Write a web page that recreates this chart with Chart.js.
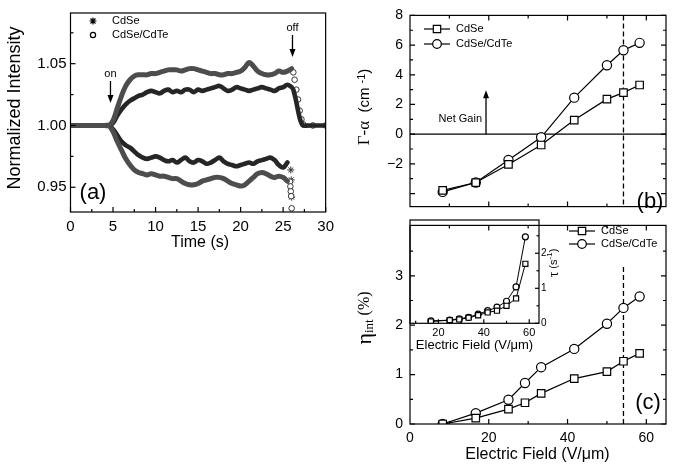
<!DOCTYPE html>
<html>
<head>
<meta charset="utf-8">
<script src="https://cdn.jsdelivr.net/npm/chart.js@4.4.0/dist/chart.umd.min.js"></script>
<style>
  body { margin: 0; background: #fff; }
  #wrap { position: relative; width: 674px; height: 471px; overflow: hidden; background: #fff; }
  canvas { position: absolute; }
</style>
</head>
<body>
<div id="wrap">
  <canvas id="chartA" width="340" height="260" style="left:0;top:0"></canvas>
  <canvas id="chartB" width="334" height="222" style="left:340px;top:0"></canvas>
  <canvas id="chartC" width="334" height="261" style="left:340px;top:210px"></canvas>
  <canvas id="chartD" width="334" height="150" style="left:340px;top:210px"></canvas>
</div>
<script>
// ---- panel (a): intensity vs time ----
const timeMain = [0, 0.5, 1, 1.5, 2, 2.5, 3, 3.5, 4, 4.5,
  5, 5.5, 6, 6.5, 7, 7.5, 8, 8.5, 9, 9.5,
  10, 10.5, 11, 11.5, 12, 12.5, 13, 13.5, 14, 14.5,
  15, 15.5, 16, 16.5, 17, 17.5, 18, 18.5, 19, 19.5,
  20, 20.5, 21, 21.5, 22, 22.5, 23, 23.5, 24, 24.5,
  25, 25.5, 26];
const cdteUp = [1, 1, 1, 1, 1, 1, 1, 1, 1, 1,
  1.004, 1.014, 1.024, 1.032, 1.037, 1.040, 1.041, 1.041, 1.041, 1.042,
  1.042, 1.043, 1.044, 1.045, 1.045, 1.045, 1.044, 1.045, 1.046, 1.046,
  1.045, 1.044, 1.043, 1.042, 1.042, 1.041, 1.041, 1.042, 1.042, 1.043,
  1.044, 1.047, 1.051, 1.048, 1.044, 1.042, 1.041, 1.041, 1.042, 1.044,
  1.043, 1.044, 1.046];
const cdseUp = [1, 1, 1, 1, 1, 1, 1, 1, 1, 1,
  1.002, 1.008, 1.013, 1.017, 1.020, 1.022, 1.024, 1.025, 1.027, 1.028,
  1.027, 1.026, 1.028, 1.029, 1.027, 1.028, 1.027, 1.029, 1.029, 1.027,
  1.029, 1.028, 1.029, 1.030, 1.031, 1.032, 1.030, 1.028, 1.029, 1.031,
  1.030, 1.029, 1.028, 1.029, 1.030, 1.031, 1.030, 1.029, 1.028, 1.030,
  1.031, 1.033, 1.031];
const cdseDown = [1, 1, 1, 1, 1, 1, 1, 1, 1, 1,
  0.997, 0.992, 0.987, 0.984, 0.982, 0.979, 0.976, 0.974, 0.973, 0.974,
  0.975, 0.974, 0.972, 0.971, 0.972, 0.970, 0.972, 0.974, 0.971, 0.970,
  0.972, 0.971, 0.969, 0.970, 0.972, 0.974, 0.971, 0.969, 0.968, 0.967,
  0.968, 0.969, 0.970, 0.969, 0.971, 0.972, 0.973, 0.974, 0.972, 0.968,
  0.966, 0.970];
const cdteDown = [1, 1, 1, 1, 1, 1, 1, 1, 1, 1,
  0.995, 0.987, 0.980, 0.973, 0.968, 0.964, 0.962, 0.961, 0.960, 0.961,
  0.960, 0.959, 0.959, 0.958, 0.957, 0.957, 0.955, 0.953, 0.952, 0.952,
  0.953, 0.955, 0.956, 0.957, 0.958, 0.958, 0.957, 0.955, 0.953, 0.952,
  0.951, 0.952, 0.955, 0.958, 0.961, 0.962, 0.961, 0.959, 0.958, 0.959,
  0.958, 0.955];
// field switched off: upper curves relax back to 1
const timeOff = [26.2, 26.35, 26.55, 26.75, 26.95, 27.15, 27.35, 28.5, 30];
const cdteOff = [1.043, 1.037, 1.029, 1.021, 1.012, 1.005, 1.001, 1.000, 1.000];
const cdseOff = [1.029, 1.025, 1.019, 1.012, 1.006, 1.002, 1.000, 1.000, 1.000];
// last points of the lower curves
const timeTailTe = [25.8, 25.85, 25.9, 25.95, 26.0];
const cdteTail = [0.9546, 0.9507, 0.9467, 0.9428, 0.933];
const timeTailSe = [25.9, 25.95, 26.0];
const cdseTail = [0.964, 0.956, 0.942];

const timeTicks = [0, 5, 10, 15, 20, 25, 30];
const timeMinor = [2.5, 7.5, 12.5, 17.5, 22.5, 27.5];
const intensityTicks = [0.95, 1.00, 1.05];
const intensityMinor = [0.975, 1.025, 1.075];

// ---- panel (b): gain ----
const fieldB = [8.3, 16.7, 25, 33.3, 41.7, 50, 54.2, 58.3];
const gainCdSe = [-3.79, -3.26, -2.04, -0.73, 0.95, 2.36, 2.80, 3.31];
const gainCdTe = [-3.89, -3.26, -1.74, -0.21, 2.46, 4.64, 5.65, 6.15];
const gainTicks = [-2, 0, 2, 4, 6, 8];
const gainMarks = [-4, -2, 0, 2, 4, 6, 8];
const gainMinor = [-3, -1, 1, 3, 5, 7];

// ---- panel (c): internal efficiency ----
const fieldC = [8.3, 16.7, 25, 29.2, 33.3, 41.7, 50, 54.2, 58.3];
const etaCdSe = [0.0, 0.12, 0.30, 0.43, 0.62, 0.92, 1.06, 1.27, 1.43];
const etaCdTe = [0.0, 0.22, 0.49, 0.83, 1.15, 1.52, 2.03, 2.35, 2.58];
const etaTicks = [0, 1, 2, 3];
const etaMinor = [0.5, 1.5, 2.5, 3.5];
const fieldTicks = [0, 20, 40, 60];
const fieldMarks = [20, 40, 60];
const fieldMinor = [10, 30, 50];

// ---- inset: rate vs field ----
const fieldInset = [16.7, 25, 29.2, 33.3, 37.5, 41.7, 45.8, 50, 54.2, 58.3];
const tauCdSe = [0.05, 0.09, 0.11, 0.16, 0.23, 0.31, 0.36, 0.50, 0.71, 1.70];
const tauCdTe = [0.07, 0.09, 0.13, 0.17, 0.26, 0.36, 0.46, 0.63, 1.04, 2.47];
const insetXTicks = [20, 40, 60];
const insetXMinor = [10, 30, 50];
const insetYTicks = [0, 1, 2];
const insetYMinor = [0.5, 1.5, 2.5];

const markerField = 54.2;   // dashed line in (b) and (c)
const netGainField = 19.3;  // arrow position in (b)

const SANS = '"Liberation Sans", Arial, Helvetica, sans-serif';
const SERIF = '"Liberation Serif", "Times New Roman", serif';
Chart.defaults.font.family = SANS;
Chart.defaults.color = '#000';

const pts = (xs, ys) => ys.map((y, i) => ({ x: xs[i], y: y }));

// helpers for text
function label(ctx, str, x, y, font, align) {
  ctx.save();
  ctx.font = font;
  ctx.fillStyle = '#000';
  ctx.textAlign = align || 'center';
  ctx.textBaseline = 'middle';
  ctx.fillText(str, x, y);
  ctx.restore();
}
function runs(ctx, x, y, angle, parts) {
  ctx.save();
  ctx.translate(x, y);
  ctx.rotate(angle);
  let total = 0;
  parts.forEach(p => { ctx.font = p.font; p.w = ctx.measureText(p.t).width; total += p.w; });
  let cx = -total / 2;
  ctx.fillStyle = '#000';
  ctx.textAlign = 'left';
  ctx.textBaseline = 'middle';
  parts.forEach(p => { ctx.font = p.font; ctx.fillText(p.t, cx, p.dy || 0); cx += p.w; });
  ctx.restore();
}
function arrow(ctx, x, y0, y1) {
  // from y0 to y1 with head at y1
  const dir = y1 > y0 ? 1 : -1;
  ctx.save();
  ctx.strokeStyle = '#000';
  ctx.fillStyle = '#000';
  ctx.lineWidth = 1.3;
  ctx.beginPath();
  ctx.moveTo(x, y0);
  ctx.lineTo(x, y1 - dir * 6);
  ctx.stroke();
  ctx.beginPath();
  ctx.moveTo(x, y1);
  ctx.lineTo(x - 3, y1 - dir * 8);
  ctx.lineTo(x + 3, y1 - dir * 8);
  ctx.closePath();
  ctx.fill();
  ctx.restore();
}
function marker(ctx, style, x, y, r) {
  ctx.save();
  ctx.strokeStyle = '#000';
  ctx.fillStyle = '#fff';
  ctx.lineWidth = 1.2;
  ctx.beginPath();
  if (style === 'rect') {
    ctx.rect(x - r, y - r, 2 * r, 2 * r);
    ctx.fill();
  } else if (style === 'circle') {
    ctx.arc(x, y, r, 0, Math.PI * 2);
    ctx.fill();
  } else {
    for (let k = 0; k < 4; k++) {
      const a = k * Math.PI / 4;
      ctx.moveTo(x - r * Math.cos(a), y - r * Math.sin(a));
      ctx.lineTo(x + r * Math.cos(a), y + r * Math.sin(a));
    }
  }
  ctx.stroke();
  ctx.restore();
}
function legendRow(ctx, style, x, y, text, r) {
  ctx.save();
  ctx.strokeStyle = '#000';
  ctx.lineWidth = 1.2;
  ctx.beginPath();
  ctx.moveTo(x, y);
  ctx.lineTo(x + 26, y);
  ctx.stroke();
  ctx.restore();
  marker(ctx, style, x + 13, y, r);
  label(ctx, text, x + 32, y, '11px ' + SANS, 'left');
}

// box + inward ticks, plus extra drawing per panel
function framePlugin(cfg) {
  return {
    id: 'frame' + cfg.name,
    beforeDatasetsDraw(chart) {
      if (cfg.under) cfg.under(chart, chart.ctx);
    },
    afterDatasetsDraw(chart) {
      const ctx = chart.ctx;
      const a = chart.chartArea;
      const xs = chart.scales.x, ys = chart.scales.y;
      ctx.save();
      ctx.strokeStyle = '#000';
      ctx.lineWidth = 1.2;
      ctx.strokeRect(a.left, a.top, a.right - a.left, a.bottom - a.top);
      const xTick = (vals, len) => vals.forEach(v => {
        const px = xs.getPixelForValue(v);
        ctx.beginPath();
        if (cfg.sides.includes('bottom')) { ctx.moveTo(px, a.bottom); ctx.lineTo(px, a.bottom - len); }
        if (cfg.sides.includes('top')) { ctx.moveTo(px, a.top); ctx.lineTo(px, a.top + len); }
        ctx.stroke();
      });
      const yTick = (vals, len) => vals.forEach(v => {
        const py = ys.getPixelForValue(v);
        ctx.beginPath();
        if (cfg.sides.includes('left')) { ctx.moveTo(a.left, py); ctx.lineTo(a.left + len, py); }
        if (cfg.sides.includes('right')) { ctx.moveTo(a.right, py); ctx.lineTo(a.right - len, py); }
        ctx.stroke();
      });
      xTick(cfg.xMajor, cfg.len || 5);
      xTick(cfg.xMinor, cfg.minorLen || 3);
      yTick(cfg.yMajor, cfg.len || 5);
      yTick(cfg.yMinor, cfg.minorLen || 3);
      ctx.restore();
      if (cfg.over) cfg.over(chart, ctx);
    }
  };
}

function axis(min, max, ticks, fmt, size, padding, fit) {
  return {
    type: 'linear', min: min, max: max,
    afterBuildTicks: s => { s.ticks = ticks.map(v => ({ value: v })); },
    afterFit: fit,
    grid: { display: false, drawTicks: false },
    border: { display: false },
    ticks: {
      display: ticks.length > 0,
      autoSkip: false, maxRotation: 0, padding: padding,
      color: '#000', font: { size: size, family: SANS },
      callback: fmt
    }
  };
}
const baseOpts = {
  responsive: false,
  animation: false,
  events: [],
  plugins: { legend: { display: false }, tooltip: { enabled: false } }
};

// ---------------- panel (a) ----------------
const bandTe = { borderColor: '#4d4d4d', borderWidth: 5, pointRadius: 0, tension: 0.4, borderCapStyle: 'round', borderJoinStyle: 'round' };
const bandTeCore = { borderColor: '#a8a8a8', borderWidth: 1.6, pointRadius: 0, tension: 0.4 };
const bandSe = { borderColor: '#262626', borderWidth: 4.6, pointRadius: 0, tension: 0.4, borderCapStyle: 'round', borderJoinStyle: 'round' };
const dotsTe = { showLine: false, pointStyle: 'circle', pointRadius: 2.8, pointBorderWidth: 1, pointBorderColor: '#333', pointBackgroundColor: '#fff' };
const dotsSe = { showLine: false, pointStyle: 'star', pointRadius: 3.5, pointBorderWidth: 1, pointBorderColor: '#333' };

new Chart(document.getElementById('chartA'), {
  type: 'line',
  data: {
    datasets: [
      Object.assign({ data: pts(timeOff, cdseOff) }, bandSe, { tension: 0.2 }),
      Object.assign({ data: pts(timeMain, cdteUp) }, bandTe),
      Object.assign({ data: pts(timeMain, cdteUp) }, bandTeCore),
      Object.assign({ data: pts(timeMain, cdseUp) }, bandSe),
      Object.assign({ data: pts(timeMain, cdteDown) }, bandTe),
      Object.assign({ data: pts(timeMain, cdteDown) }, bandTeCore),
      Object.assign({ data: pts(timeMain, cdseDown) }, bandSe),
      Object.assign({ data: pts(timeOff, cdteOff) }, dotsTe),
      Object.assign({ data: pts(timeTailTe, cdteTail) }, dotsTe),
      Object.assign({ data: pts(timeTailSe, cdseTail) }, dotsSe)
    ]
  },
  options: Object.assign({}, baseOpts, {
    layout: { padding: { left: 0, top: 8, right: 11.5, bottom: 0 } },
    scales: {
      x: axis(0, 30, timeTicks, v => v, 15, 6, s => { s.height = 48; }),
      y: axis(0.930, 1.091, intensityTicks, v => v.toFixed(2), 15, 4, s => { s.width = 70.5; })
    }
  }),
  plugins: [framePlugin({
    name: 'A', sides: ['bottom', 'left'],
    xMajor: timeTicks, xMinor: timeMinor, yMajor: intensityTicks, yMinor: intensityMinor,
    over(chart, ctx) {
      const xs = chart.scales.x;
      runs(ctx, 15, 108, -Math.PI / 2, [{ t: 'Normalized Intensity', font: '18px ' + SANS }]);
      label(ctx, 'Time (s)', 200, 243, '16px ' + SANS);
      marker(ctx, 'star', 93, 21, 3.5);
      label(ctx, 'CdSe', 112, 21, '11px ' + SANS, 'left');
      marker(ctx, 'circle', 93, 35, 2.6);
      label(ctx, 'CdSe/CdTe', 112, 35, '11px ' + SANS, 'left');
      const xOn = xs.getPixelForValue(4.7), xOff = xs.getPixelForValue(26.1);
      label(ctx, 'on', xOn, 74, '11px ' + SANS);
      arrow(ctx, xOn, 81, 103);
      label(ctx, 'off', xOff, 28, '11px ' + SANS);
      arrow(ctx, xOff, 35, 57);
      label(ctx, '(a)', 93, 193, '22px ' + SANS);
    }
  })]
});

// ---------------- panel (b) ----------------
const lineSq = { borderColor: '#000', borderWidth: 1.2, pointStyle: 'rect', pointRadius: 5.3, pointBorderWidth: 1.2, pointBorderColor: '#000', pointBackgroundColor: '#fff', tension: 0 };
const lineCi = { borderColor: '#000', borderWidth: 1.2, pointStyle: 'circle', pointRadius: 4.6, pointBorderWidth: 1.2, pointBorderColor: '#000', pointBackgroundColor: '#fff', tension: 0 };

function dashed(ctx, x, y0, y1) {
  ctx.save();
  ctx.strokeStyle = '#000';
  ctx.lineWidth = 1.3;
  ctx.setLineDash([5, 3]);
  ctx.beginPath();
  ctx.moveTo(x, y0);
  ctx.lineTo(x, y1);
  ctx.stroke();
  ctx.restore();
}

new Chart(document.getElementById('chartB'), {
  type: 'line',
  data: {
    datasets: [
      Object.assign({ data: pts(fieldB, gainCdSe) }, lineSq),
      Object.assign({ data: pts(fieldB, gainCdTe) }, lineCi)
    ]
  },
  options: Object.assign({}, baseOpts, {
    layout: { padding: { left: 0, top: 15, right: 8, bottom: 3 } },
    scales: {
      x: axis(0, 65, [], v => '', 14, 0, s => { s.height = 0; }),
      y: axis(-4.88, 8, gainTicks, v => v < 0 ? '\u2212' + Math.abs(v) : String(v), 14, 7, s => { s.width = 70; })
    }
  }),
  plugins: [framePlugin({
    name: 'B', sides: ['bottom', 'top', 'left', 'right'],
    xMajor: fieldMarks, xMinor: fieldMinor, yMajor: gainMarks, yMinor: gainMinor,
    under(chart, ctx) {
      const a = chart.chartArea, xs = chart.scales.x, ys = chart.scales.y;
      const y0 = ys.getPixelForValue(0);
      ctx.save();
      ctx.strokeStyle = '#000';
      ctx.lineWidth = 1.2;
      ctx.beginPath();
      ctx.moveTo(a.left, y0);
      ctx.lineTo(a.right, y0);
      ctx.stroke();
      ctx.restore();
      dashed(ctx, xs.getPixelForValue(markerField), a.top, a.bottom);
      arrow(ctx, xs.getPixelForValue(netGainField), y0, ys.getPixelForValue(2.95));
    },
    over(chart, ctx) {
      runs(ctx, 25, 107, -Math.PI / 2, [
        { t: '\u0393-\u03b1', font: '17px ' + SERIF },
        { t: '  (cm ', font: '15px ' + SANS },
        { t: '-1', font: '11px ' + SANS, dy: -3 },
        { t: ')', font: '15px ' + SANS }
      ]);
      label(ctx, 'Net Gain', 142, 119, '11px ' + SANS, 'right');
      legendRow(ctx, 'rect', 84, 29, 'CdSe', 3.7);
      legendRow(ctx, 'circle', 84, 44, 'CdSe/CdTe', 4.3);
      label(ctx, '(b)', 310, 202, '22px ' + SANS);
    }
  })]
});

// ---------------- panel (c) ----------------
new Chart(document.getElementById('chartC'), {
  type: 'line',
  data: {
    datasets: [
      Object.assign({ data: pts(fieldC, etaCdSe) }, lineSq),
      Object.assign({ data: pts(fieldC, etaCdTe) }, lineCi)
    ]
  },
  options: Object.assign({}, baseOpts, {
    layout: { padding: { left: 0, top: 9, right: 8, bottom: 0 } },
    scales: {
      x: axis(0, 65, fieldTicks, v => v, 14, 6, s => { s.height = 47; }),
      y: axis(0, 4.02, etaTicks, v => v, 14, 7, s => { s.width = 70; })
    }
  }),
  plugins: [framePlugin({
    name: 'C', sides: ['bottom', 'top', 'left', 'right'],
    xMajor: fieldMarks, xMinor: fieldMinor, yMajor: etaTicks, yMinor: etaMinor,
    under(chart, ctx) {
      const a = chart.chartArea, xs = chart.scales.x, ys = chart.scales.y;
      dashed(ctx, xs.getPixelForValue(markerField), ys.getPixelForValue(3.18), a.bottom);
    },
    over(chart, ctx) {
      runs(ctx, 25, 108, -Math.PI / 2, [
        { t: '\u03b7', font: '22px ' + SERIF },
        { t: 'int', font: '13px ' + SERIF, dy: 5 },
        { t: ' (%)', font: '16px ' + SERIF }
      ]);
      label(ctx, 'Electric Field (V/\u03bcm)', 197.5, 245, '16px ' + SANS);
      legendRow(ctx, 'rect', 229, 21, 'CdSe', 3.7);
      legendRow(ctx, 'circle', 229, 34, 'CdSe/CdTe', 4.3);
      label(ctx, '(c)', 308, 193, '22px ' + SANS);
    }
  })]
});

// ---------------- inset ----------------
const smallSq = Object.assign({}, lineSq, { pointRadius: 3.6, borderWidth: 1 });
const smallCi = Object.assign({}, lineCi, { pointRadius: 3, borderWidth: 1 });
new Chart(document.getElementById('chartD'), {
  type: 'line',
  data: {
    datasets: [
      Object.assign({ data: pts(fieldInset, tauCdSe) }, smallSq),
      Object.assign({ data: pts(fieldInset, tauCdTe) }, smallCi)
    ]
  },
  options: Object.assign({}, baseOpts, {
    layout: { padding: { left: 70, top: 10, right: 105, bottom: 0 } },
    scales: {
      x: axis(7.5, 64.3, insetXTicks, v => v, 11, 3, s => { s.height = 36.7; }),
      y: Object.assign(axis(0, 2.95, insetYTicks, v => v, 10, 2, s => { s.width = 30; }), { position: 'right' })
    }
  }),
  plugins: [framePlugin({
    name: 'D', sides: ['bottom', 'right'], len: 4, minorLen: 2.5,
    xMajor: insetXTicks, xMinor: insetXMinor, yMajor: insetYTicks, yMinor: insetYMinor,
    over(chart, ctx) {
      label(ctx, 'Electric Field (V/\u03bcm)', 134.5, 135, '13px ' + SANS);
      runs(ctx, 214, 53, -Math.PI / 2, [
        { t: '\u03c4', font: '14px ' + SERIF },
        { t: ' (s', font: '11px ' + SANS },
        { t: '-1', font: '8px ' + SANS, dy: -4 },
        { t: ')', font: '11px ' + SANS }
      ]);
    }
  })]
});
</script>
</body>
</html>
